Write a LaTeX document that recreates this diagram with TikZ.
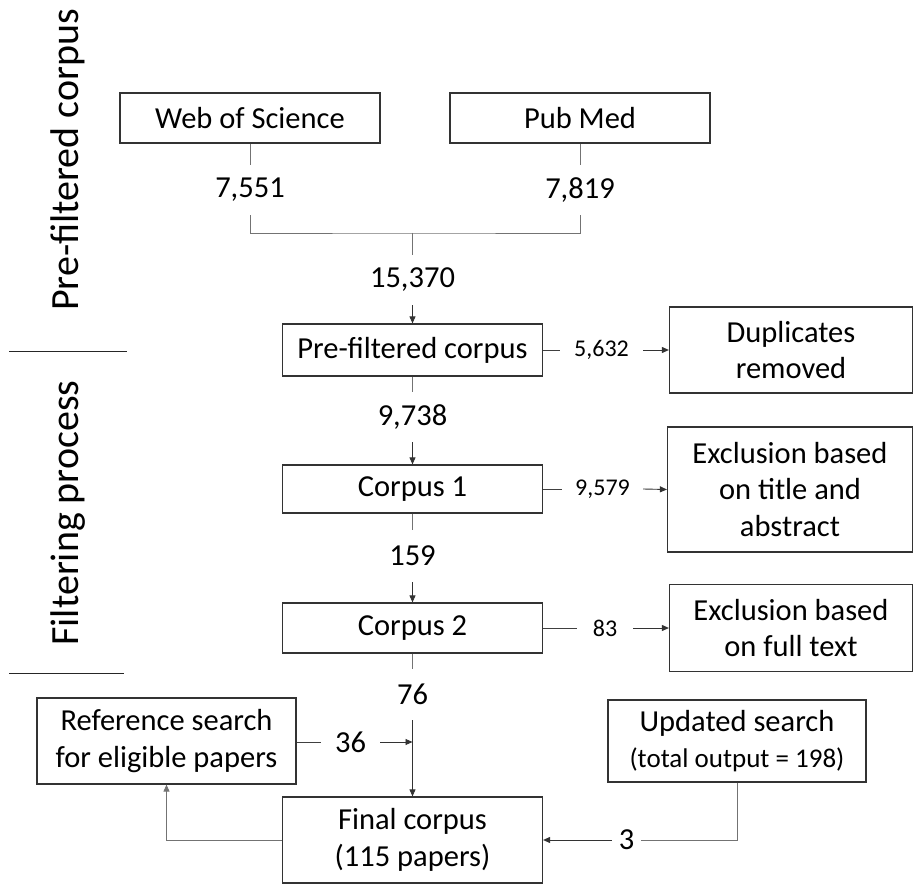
\documentclass[tikz,border=0pt]{standalone}
\usepackage{fontspec}
\setmainfont{Carlito}
\usetikzlibrary{arrows.meta}
\begin{document}
\begin{tikzpicture}[x=1pt,y=-1pt,
 box/.style={draw=black!80, line width=1.2pt, inner sep=0pt, align=center, font=\fontsize{30.5}{36.5}\selectfont},
 num/.style={inner sep=0pt, minimum width=20pt, font=\fontsize{30.5}{36}\selectfont},
 snum/.style={inner sep=0pt, minimum height=20pt, font=\fontsize{24}{28}\selectfont},
 conn/.style={draw=black!55, line width=0.9pt},
 hconn/.style={draw=black!75, line width=0.9pt},
 arr/.style={draw=black!80, line width=0.9pt, -{Triangle[length=7pt,width=6pt]}},
 side/.style={rotate=90, inner sep=0pt, font=\fontsize{40}{48}\selectfont},
 sep/.style={draw=black!85, line width=1pt}]
\useasboundingbox (0,0) rectangle (914,888);

% side labels
\node[side] (lab1) at (68,160) {Pre-filtered corpus};
\node[side] (lab2) at (68,513) {Filtering process};
\draw[sep] (9,351) -- (127,351);
\draw[sep] (9,673) -- (124,673);

% main boxes
\node[box, minimum width=260pt, minimum height=50pt] (wos) at (250,118) {Web of Science};
\node[box, minimum width=260pt, minimum height=50pt] (pub) at (580,118) {Pub Med};
\node[box, minimum width=260pt, minimum height=52pt] (pre) at (412.5,350) {Pre-filtered corpus};
\node[box, minimum width=260pt, minimum height=48pt] (c1) at (412.5,489) {Corpus 1};
\node[box, minimum width=260pt, minimum height=50pt] (c2) at (412.5,628) {Corpus 2};
\node[box, minimum width=260pt, minimum height=86pt] (fin) at (412.5,840) {Final corpus\\(115 papers)};

% side boxes
\node[box, minimum width=243pt, minimum height=86pt] (dup) at (791,350) {Duplicates\\removed};
\node[box, minimum width=245pt, minimum height=125pt] (ex1) at (790,489.5) {Exclusion based\\on title and\\abstract};
\node[box, minimum width=243pt, minimum height=87pt] (ex2) at (791,628) {Exclusion based\\on full text};
\node[box, minimum width=259pt, minimum height=86pt] (ref) at (166.5,741) {Reference search\\for eligible papers};
\node[box, minimum width=258pt, minimum height=82pt] (upd) at (737,741) {Updated search\\{\fontsize{27}{32}\selectfont(total output = 198)}};

% vertical number nodes
\node[num, minimum height=50pt] (n7551) at (250,190) {7,551};
\node[num, minimum height=50pt] (n7819) at (580,190) {7,819};
\node[num, minimum height=50pt] (n15370) at (412.5,280) {15,370};
\node[num, minimum height=50pt] (n9738) at (412.5,417) {9,738};
\node[num, minimum height=52pt] (n159) at (412.5,556) {159};
\node[num, minimum height=51pt] (n76) at (412.5,694.5) {76};

% horizontal number nodes
\node[snum, minimum width=83pt] (n5632) at (601.5,350) {5,632};
\node[snum, minimum width=81pt] (n9579) at (602.5,489) {9,579};
\node[snum, minimum width=56pt] (n83) at (605,628) {83};
\node[num, minimum width=59pt] (n36) at (350.5,742) {36};
\node[num, minimum width=29pt] (n3) at (626.5,840) {3};

\coordinate (jm) at (412.5,233);
\coordinate (m36) at (412.5,742);

% top merge
\draw[conn] (wos.south) -- (n7551.north);
\draw[conn] (pub.south) -- (n7819.north);
\draw[conn] (n7551.south) |- (jm) -| (n7819.south);
\draw[conn] (jm) -- (n15370.north);
\draw[arr] (n15370.south) -- (pre.north);

% main chain
\draw[conn] (pre.south) -- (n9738.north);
\draw[arr] (n9738.south) -- (c1.north);
\draw[conn] (c1.south) -- (n159.north);
\draw[arr] (n159.south) -- (c2.north);
\draw[conn] (c2.south) -- (n76.north);
\draw[arr] (n76.south) -- (fin.north);

% exclusions
\draw[hconn] (pre.east) -- (n5632.west);
\draw[arr] (n5632.east) -- (dup.west);
\draw[hconn] (c1.east) -- (n9579.west);
\draw[arr] (n9579.east) -- (ex1.west);
\draw[hconn] (c2.east) -- (n83.west);
\draw[arr] (n83.east) -- (ex2.west);

% bottom
\draw[hconn] (ref.east |- n36.west) -- (n36.west);
\draw[arr] (n36.east) -- (m36);
\draw[conn, -{Triangle[length=7pt,width=6pt]}] (fin.west) -| (ref.south);
\draw[conn] (upd.south) |- (n3.east);
\draw[arr] (n3.west) -- (fin.east);
\end{tikzpicture}
\end{document}
